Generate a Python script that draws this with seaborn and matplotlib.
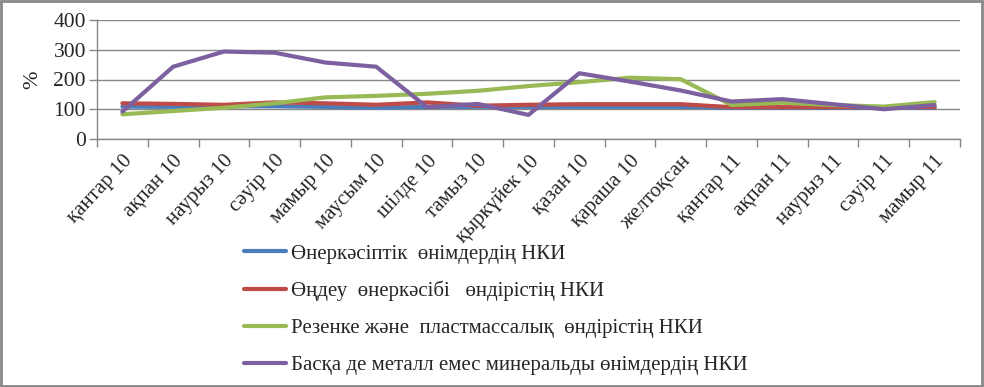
import matplotlib
matplotlib.use('Agg')
import matplotlib.pyplot as plt
import seaborn as sns
import numpy as np
import pandas as pd
from matplotlib.patches import Rectangle

# Data
months = ['қантар 10', 'ақпан 10', 'наурыз 10', 'сәуір 10', 'мамыр 10', 'маусым 10',
          'шілде 10', 'тамыз 10', 'қыркүйек 10', 'қазан 10', 'қараша 10', 'желтоқсан',
          'қантар 11', 'ақпан 11', 'наурыз 11', 'сәуір 11', 'мамыр 11']
industrial = [109, 108, 110, 110, 108, 105, 108, 108, 108, 108, 108, 108, 105, 105, 105, 105, 105]
processing = [120, 118, 115, 123, 120, 115, 123, 112, 115, 117, 117, 117, 107, 107, 107, 107, 107]
rubber = [83, 94, 105, 120, 140, 145, 152, 162, 178, 191, 206, 201, 114, 122, 114, 109, 124]
mineral = [92, 243, 294, 290, 257, 243, 107, 118, 81, 221, 193, 163, 126, 134, 117, 100, 114]

series_names = ['Өнеркәсіптік  өнімдердің НКИ',
                'Өңдеу  өнеркәсібі   өндірістің НКИ',
                'Резенке және  пластмассалық  өндірістің НКИ',
                'Басқа де металл емес минеральды өнімдердің НКИ']
colors = ['#4A7EBB', '#BE4B48', '#98B954', '#7D60A0']

frames = []
for name, vals in zip(series_names, [industrial, processing, rubber, mineral]):
    frames.append(pd.DataFrame({'idx': np.arange(len(months)), 'value': vals, 'series': name}))
df = pd.concat(frames, ignore_index=True)

sns.set_style('white')
plt.rcParams['font.family'] = ['Liberation Serif', 'DejaVu Serif']

fig = plt.figure(figsize=(9.84, 3.87), dpi=100)
ax = fig.add_axes([97 / 984, 1 - 139 / 387, (960 - 97) / 984, (139 - 20) / 387])

sns.lineplot(data=df, x='idx', y='value', hue='series', palette=colors,
             linewidth=3, sort=False, ax=ax, legend=False)

ax.set_xlim(-0.5, len(months) - 0.5)
ax.set_ylim(0, 400)
ax.set_yticks([0, 100, 200, 300, 400])
ax.tick_params(axis='y', labelsize=15.5, length=6, color='#868686', width=1, direction='out', left=True, pad=2)
ax.yaxis.grid(True, color='#868686', linewidth=1)
ax.set_axisbelow(True)

# minor ticks at category boundaries, labels at centers
ax.set_xticks(np.arange(len(months)))
ax.set_xticklabels(months, rotation=47, ha='right', rotation_mode='anchor', fontsize=15)
ax.set_xticks(np.arange(len(months) + 1) - 0.5, minor=True)
ax.tick_params(axis='x', which='major', length=0, pad=9)
ax.tick_params(axis='x', which='minor', length=6, color='#868686', width=1, direction='out', bottom=True)

for side in ['top', 'right']:
    ax.spines[side].set_visible(False)
for side in ['left', 'bottom']:
    ax.spines[side].set_color('#868686')
    ax.spines[side].set_linewidth(1)

ax.set_xlabel('')
ax.set_ylabel('%', fontsize=16, labelpad=8)

handles = [plt.Line2D([], [], color=c, linewidth=3) for c in colors]
fig.legend(handles, series_names, loc='upper left', bbox_to_anchor=(244 / 984, 1 - 244 / 387),
           frameon=False, fontsize=15, handlelength=2.0, handletextpad=0.25,
           labelspacing=0.83, borderpad=0, borderaxespad=0)

fig.patches.append(Rectangle((0.001, 0.002), 0.997, 0.995, transform=fig.transFigure,
                             fill=False, edgecolor='#868686', linewidth=2))

fig.savefig('out.png', dpi=100)
